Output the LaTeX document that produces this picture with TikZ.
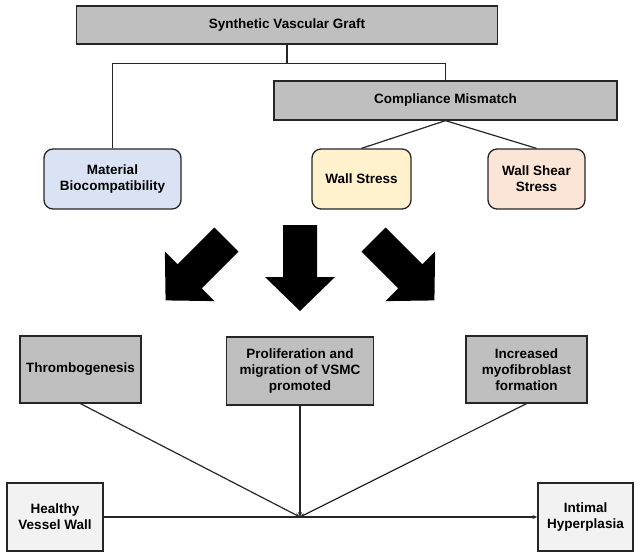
\documentclass[tikz,border=0pt]{standalone}
\usepackage{fontspec}
\setmainfont{Liberation Sans}
\usepackage{tikz}
\usetikzlibrary{arrows.meta, positioning}

\definecolor{boxgray}{HTML}{BFBFBF}
\definecolor{palegray}{HTML}{F2F2F2}
\definecolor{paleblue}{HTML}{DAE3F3}
\definecolor{paleyellow}{HTML}{FFF2CC}
\definecolor{palepeach}{HTML}{FBE5D6}

\begin{document}
\begin{tikzpicture}[
x=1pt, y=-1pt,
block/.style={rectangle, draw=black!85, line width=1.3pt, fill=boxgray, align=center, inner sep=2pt, font=\fontsize{13.5}{16}\selectfont\bfseries},
soft/.style={block, rounded corners=9pt},
link/.style={line width=1.2pt, black!85},
arrow/.style={link, -{Stealth[length=5pt, width=4pt]}},
bigarrow/.pic={\fill (-43,-17) -- (9,-17) -- (9,-35) -- (43,0) -- (9,35) -- (9,17) -- (-43,17) -- cycle;}
]
\useasboundingbox (0,0) rectangle (640,557);

% causes
\node (graft) [block, minimum width=421pt, minimum height=38pt] at (287,25) {Synthetic Vascular Graft};
\node (compliance) [block, minimum width=343pt, minimum height=39pt] at (445.5,100.5) {Compliance Mismatch};
\node (material) [soft, fill=paleblue, minimum width=137pt, minimum height=60pt] at (112.5,179) {Material\\Biocompatibility};
\node (wall) [soft, fill=paleyellow, minimum width=99pt, minimum height=60pt] at (361.5,179) {Wall Stress};
\node (shear) [soft, fill=palepeach, minimum width=97pt, minimum height=60pt] at (536.5,179) {Wall Shear\\Stress};

\draw [link] (graft.south) -- ++(0,19) coordinate (split);
\draw [link] (material.north) |- (split) -| (compliance.north);
\draw [link] (compliance.south) -- (wall.north);
\draw [link] (compliance.south) -- (shear.north);

% big arrows
\pic [rotate=-135] at (196,270) {bigarrow};
\pic [rotate=-90] at (300,268) {bigarrow};
\pic [rotate=-45] at (404,270) {bigarrow};

% effects
\node (thrombo) [block, minimum width=121pt, minimum height=67pt] at (80.5,369.5) {Thrombogenesis};
\node (vsmc) [block, minimum width=147pt, minimum height=68pt] at (300,371) {Proliferation and\\migration of VSMC\\promoted};
\node (myo) [block, minimum width=121pt, minimum height=67pt] at (526.5,369.5) {Increased\\myofibroblast\\formation};

\node (healthy) [block, fill=palegray, minimum width=96pt, minimum height=68pt] at (55,517) {Healthy\\Vessel Wall};
\node (intimal) [block, fill=palegray, minimum width=95pt, minimum height=68pt] at (585.5,517) {Intimal\\Hyperplasia};

\coordinate (meet) at (300,517);
\draw [arrow] (healthy.east) -- (intimal.west);
\draw [arrow] (thrombo.south) -- (meet);
\draw [arrow] (vsmc.south) -- (meet);
\draw [arrow] (myo.south) -- (meet);

\end{tikzpicture}
\end{document}
